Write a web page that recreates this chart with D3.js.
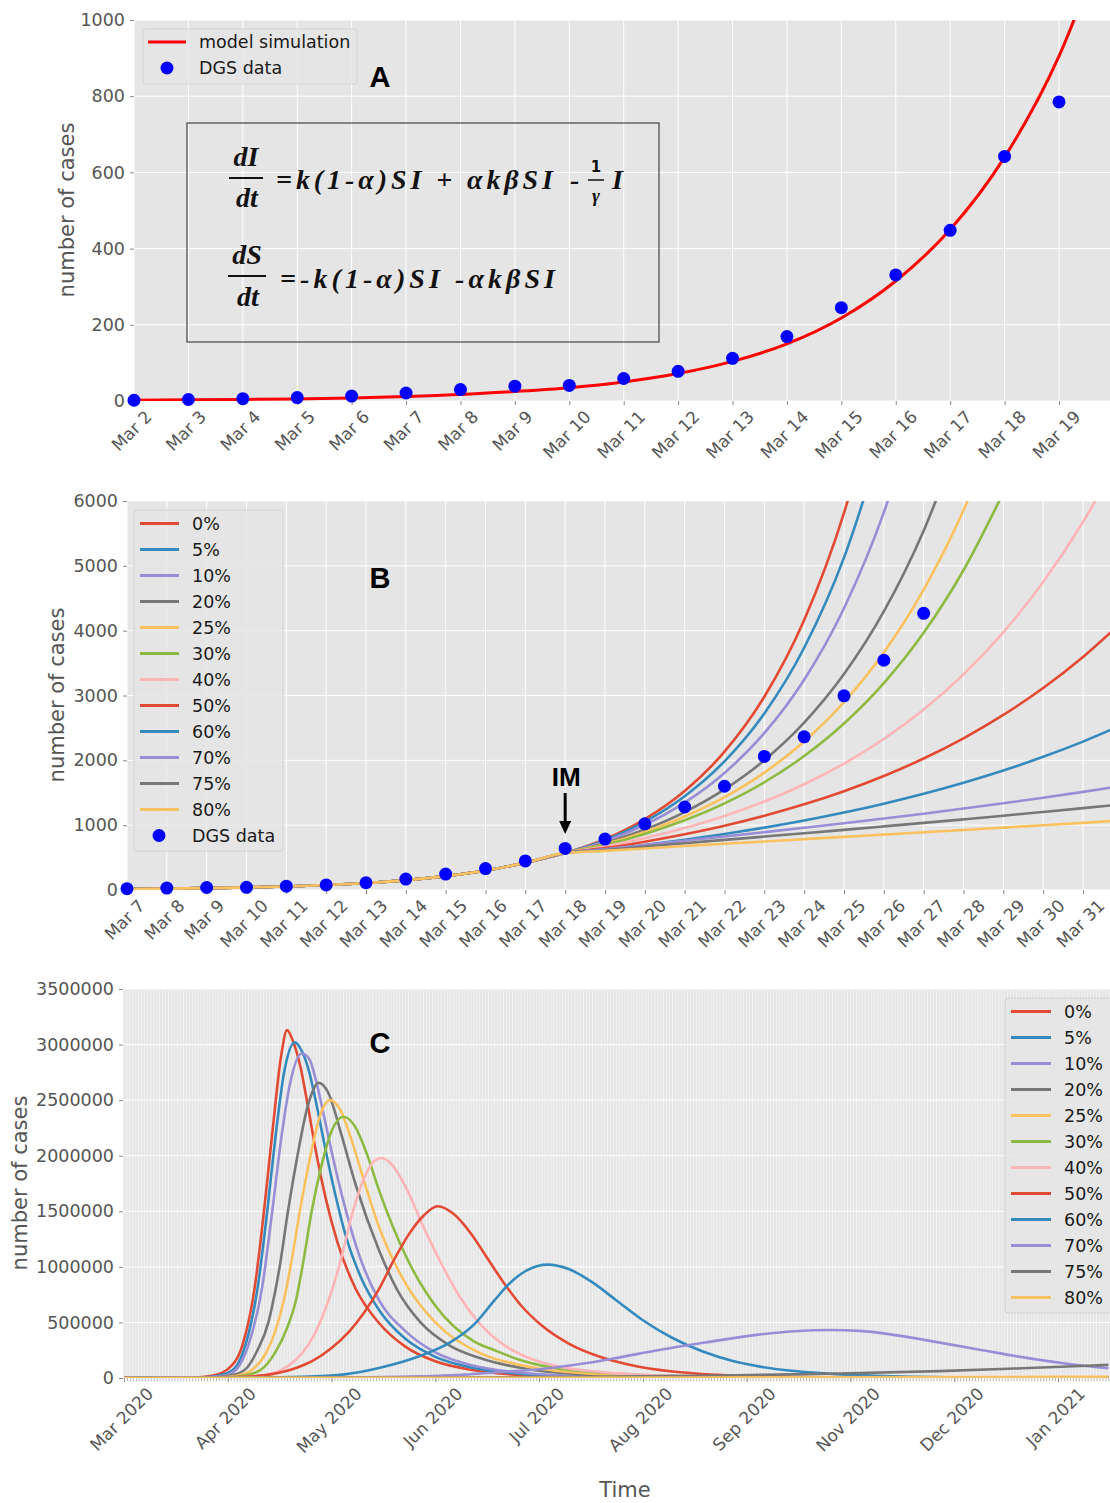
<!DOCTYPE html>
<html>
<head>
<meta charset="utf-8">
<title>SIR model simulations</title>
<script src="https://d3js.org/d3.v7.min.js"></script>
<style>
  body { margin: 0; background: #ffffff; }
  svg { font-family: "DejaVu Sans", sans-serif; }
</style>
</head>
<body>
<svg id="chart" width="1110" height="1503"></svg>
<script>
// ---------------- data ----------------
// panel A : model fit on the first days
var aTickLabels = ["Mar 2", "Mar 3", "Mar 4", "Mar 5", "Mar 6", "Mar 7", "Mar 8", "Mar 9", "Mar 10",
                   "Mar 11", "Mar 12", "Mar 13", "Mar 14", "Mar 15", "Mar 16", "Mar 17", "Mar 18", "Mar 19"];
var aDgsCases = [2, 4, 6, 9, 13, 21, 30, 39, 41, 59, 78, 112, 169, 245, 331, 448, 642, 785];
// model simulation, one value per day from Mar 2 to Mar 20
var aModelCases = [2, 3, 4, 5.5, 8, 12, 17, 25, 35, 50, 72, 104, 150, 218, 315, 450, 640, 905, 1280];
var aYTicks = [0, 200, 400, 600, 800, 1000];

// panel B : isolation scenarios after IM (Mar 18)
var bTickLabels = ["Mar 7", "Mar 8", "Mar 9", "Mar 10", "Mar 11", "Mar 12", "Mar 13", "Mar 14", "Mar 15",
                   "Mar 16", "Mar 17", "Mar 18", "Mar 19", "Mar 20", "Mar 21", "Mar 22", "Mar 23", "Mar 24",
                   "Mar 25", "Mar 26", "Mar 27", "Mar 28", "Mar 29", "Mar 30", "Mar 31"];
// DGS data from Mar 7 to Mar 27
var bDgsCases = [21, 30, 39, 41, 59, 78, 112, 169, 245, 331, 448, 642, 785, 1020, 1280, 1600, 2060, 2362, 2995, 3544, 4268];
// common fit from Mar 7 to Mar 18
var bFitCases = [15, 21, 29, 40, 55, 77, 108, 152, 214, 300, 420, 570];
var scenarios = ["0%", "5%", "10%", "20%", "25%", "30%", "40%", "50%", "60%", "70%", "75%", "80%"];
// one value per day starting Mar 18
var bAfterIM = [
  [570, 782, 1093, 1527, 2133, 2980, 4163, 5816, 8125],
  [570, 768, 1054, 1447, 1985, 2723, 3736, 5126, 7033],
  [570, 750, 1006, 1348, 1806, 2420, 3243, 4346, 5824, 7804],
  [570, 723, 932, 1202, 1551, 2001, 2581, 3330, 4296, 5542, 7149],
  [570, 708, 896, 1133, 1432, 1811, 2291, 2897, 3663, 4633, 5858, 7408],
  [570, 696, 865, 1076, 1337, 1662, 2066, 2568, 3192, 3968, 4932, 6130],
  [570, 669, 800, 956, 1142, 1365, 1631, 1949, 2329, 2783, 3326, 3975, 4750, 5676, 6783],
  [570, 646, 745, 860, 992, 1145, 1321, 1524, 1758, 2028, 2340, 2700, 3115, 3594, 4146],
  [570, 624, 695, 775, 864, 962, 1072, 1195, 1332, 1484, 1654, 1843, 2054, 2289, 2551],
  [570, 628, 695, 760, 825, 892, 960, 1030, 1102, 1177, 1256, 1338, 1424, 1514, 1608],
  [570, 616, 670, 722, 773, 824, 876, 928, 981, 1035, 1090, 1146, 1204, 1263, 1324],
  [570, 603, 641, 678, 714, 749, 784, 819, 854, 890, 926, 962, 999, 1036, 1074]
];
var bYTicks = [0, 1000, 2000, 3000, 4000, 5000, 6000];

// panel C : long term, [days after Mar 2 2020, cases]
var cTickDays = [0, 35, 70, 105, 140, 175, 210, 245, 280, 315];
var cTickLabels = ["Mar 2020", "Apr 2020", "May 2020", "Jun 2020", "Jul 2020", "Aug 2020",
                   "Sep 2020", "Nov 2020", "Dec 2020", "Jan 2021"];
var cYTicks = [0, 500000, 1000000, 1500000, 2000000, 2500000, 3000000, 3500000];
var cCurves = [
  [[0,0],[20,2000],[25,6000],[30,22000],[35,80000],[40,300000],[44,800000],[47,1450000],[50,2200000],[53,2900000],
   [55,3130000],[57,3030000],[59.5,2800000],[62,2450000],[65,2000000],[68,1620000],[72,1220000],[78,810000],
   [86,495000],[95,280000],[105,150000],[118,70000],[135,25000],[160,6000],[200,1000],[332,0]],
  [[0,0],[22,2000],[27,6000],[32,22000],[37,80000],[41,300000],[45,800000],[48.3,1500000],[51,2150000],[54,2750000],
   [57.6,3020000],[60,2940000],[62.5,2750000],[65,2450000],[68,2050000],[71,1680000],[75,1260000],[80,900000],
   [86,612000],[95,350000],[105,190000],[118,90000],[135,35000],[160,9000],[200,1500],[332,0]],
  [[0,0],[23,2000],[28,6000],[34,22000],[38,80000],[42,300000],[46.5,800000],[50,1500000],[53,2150000],[56,2650000],
   [60,2920000],[62.5,2870000],[65,2650000],[67.5,2350000],[70.5,1980000],[74.5,1540000],[79,1130000],[86,700000],
   [95,420000],[105,230000],[118,110000],[135,45000],[160,12000],[200,2000],[332,0]],
  [[0,0],[25,2000],[31,6000],[36,22000],[41,80000],[45,250000],[48.7,500000],[50,650000],[52.5,1000000],[55.3,1500000],
   [58.5,2000000],[62,2450000],[65.7,2655000],[69,2560000],[73,2220000],[78,1750000],[86,1150000],[92,800000],
   [100,500000],[110,290000],[120,180000],[135,85000],[160,25000],[200,4000],[240,1000],[332,0]],
  [[0,0],[27,2000],[33,6000],[38,20000],[43,70000],[48,230000],[51,420000],[53.9,700000],[56.5,1050000],[59.3,1500000],
   [62.5,1950000],[66,2350000],[69.4,2500000],[73,2410000],[77,2120000],[81,1770000],[86,1360000],[95,850000],
   [105,500000],[118,250000],[135,110000],[160,35000],[200,6000],[240,1000],[332,0]],
  [[0,0],[29,2000],[35,6000],[40,20000],[46,70000],[51,230000],[55,450000],[58,700000],[60.5,1050000],[63.3,1500000],
   [66.5,1900000],[70,2220000],[74,2350000],[78,2260000],[82,2010000],[86,1690000],[95,1100000],[105,650000],
   [118,330000],[125,250000],[135,150000],[160,50000],[200,10000],[240,2000],[332,0]],
  [[0,0],[35,3000],[42,10000],[48,30000],[52,60000],[56,120000],[60,220000],[64,380000],[67,560000],[70,780000],
   [73,1050000],[77,1480000],[81,1800000],[84,1940000],[86.6,1980000],[90,1930000],[95,1720000],[101,1360000],
   [107,1030000],[113,740000],[120,490000],[128,300000],[137,175000],[147,100000],[160,55000],[190,15000],
   [230,3000],[280,0],[332,0]],
  [[0,0],[30,3000],[40,10000],[50,35000],[58,90000],[64,160000],[70,270000],[76,420000],[81,590000],[86,800000],
   [91,1060000],[96,1290000],[101,1460000],[105.8,1545000],[111,1480000],[117,1300000],[122,1100000],[128,860000],
   [134,650000],[141,470000],[150,310000],[160,195000],[172,110000],[185,58000],[200,28000],[220,11000],
   [260,2000],[300,0],[332,0]],
  [[0,0],[40,3000],[60,10000],[75,35000],[86,90000],[100,200000],[110,320000],[118,480000],[125,700000],[130,850000],
   [136,970000],[142.8,1020000],[150,980000],[158,860000],[166,700000],[175,520000],[185,360000],[195,240000],
   [205,155000],[215,100000],[227,60000],[240,35000],[260,15000],[290,4000],[332,1000]],
  [[0,0],[60,2000],[80,6000],[100,15000],[115,30000],[125,50000],[140,78000],[155,130000],[165,175000],[180,250000],
   [196,320000],[214,390000],[226,420000],[238,432000],[248,424000],[258,395000],[268,352000],[278,305000],
   [290,248000],[300,200000],[318,128000],[332,88000]],
  [[0,0],[100,3000],[150,8000],[200,22000],[238,38000],[275,62000],[300,85000],[332,118000]],
  [[0,0],[100,2000],[200,5000],[300,9000],[332,11000]]
];

// ---------------- style ----------------
var colors = ["#E24A33", "#348ABD", "#988ED5", "#777777", "#FBC15E", "#8EBA42", "#FFB5B8",
              "#E24A33", "#348ABD", "#988ED5", "#777777", "#FBC15E"];
var tickGrey = "#555555";
var bg = "#E5E5E5";

var svg = d3.select("#chart");
var parseDay = d3.timeParse("%b %d %Y");
function day(s) { return parseDay(s + " 2020"); }

// background, grid, clip for one panel
function frame(id, box, xs, xTicks, ys, yTicks) {
  var g = svg.append("g");
  g.append("rect").attr("x", box.left).attr("y", box.top)
    .attr("width", box.right - box.left).attr("height", box.bottom - box.top).attr("fill", bg);
  g.selectAll(".gy").data(yTicks).join("line")
    .attr("x1", box.left).attr("x2", box.right)
    .attr("y1", function(d) { return ys(d); }).attr("y2", function(d) { return ys(d); })
    .attr("stroke", "#fff").attr("stroke-width", 1);
  g.selectAll(".gx").data(xTicks).join("line")
    .attr("x1", function(d) { return xs(d); }).attr("x2", function(d) { return xs(d); })
    .attr("y1", box.top).attr("y2", box.bottom)
    .attr("stroke", "#fff").attr("stroke-width", 1);
  svg.append("clipPath").attr("id", id).append("rect")
    .attr("x", box.left).attr("y", box.top)
    .attr("width", box.right - box.left).attr("height", box.bottom - box.top);
  return g;
}

function leftAxis(ys, ticks, box) {
  var g = svg.append("g").attr("transform", "translate(" + box.left + ",0)")
    .call(d3.axisLeft(ys).tickValues(ticks).tickFormat(d3.format("d")).tickSize(4).tickPadding(5));
  g.attr("font-family", null).attr("font-size", null);
  g.select(".domain").remove();
  g.selectAll(".tick line").attr("stroke", "#888");
  g.selectAll(".tick text").attr("fill", tickGrey).style("font-size", "17.5px");
  return g;
}

function bottomAxis(xs, ticks, fmt, box) {
  var g = svg.append("g").attr("transform", "translate(0," + box.bottom + ")")
    .call(d3.axisBottom(xs).tickValues(ticks).tickFormat(fmt).tickSize(4));
  g.attr("font-family", null).attr("font-size", null);
  g.select(".domain").remove();
  g.selectAll(".tick line").attr("stroke", "#888");
  // matplotlib style: labels turned 45 degrees, centred under the tick
  g.selectAll(".tick text").attr("fill", tickGrey).style("font-size", "17px")
    .each(function() {
      var w = this.getComputedTextLength();
      var off = 7 + (w + 16) * 0.3536;
      d3.select(this).attr("y", null).attr("dy", null)
        .attr("text-anchor", "middle").attr("dominant-baseline", "central")
        .attr("transform", "translate(-3," + off + ") rotate(-45)");
    });
  return g;
}

function yLabel(x, y, txt) {
  svg.append("text").attr("transform", "translate(" + x + "," + y + ") rotate(-90)")
    .attr("text-anchor", "middle").attr("dominant-baseline", "central")
    .attr("fill", tickGrey).style("font-size", "21px").text(txt);
}

function panelLetter(x, y, txt) {
  svg.append("text").attr("x", x).attr("y", y).attr("text-anchor", "middle")
    .style("font-family", "Liberation Sans, Arial, sans-serif").style("font-weight", "bold")
    .style("font-size", "29px").attr("fill", "#000").text(txt);
}

function legendBox(x, y, w, h) {
  svg.append("rect").attr("x", x).attr("y", y).attr("width", w).attr("height", h).attr("rx", 3)
    .attr("fill", bg).attr("fill-opacity", 0.85).attr("stroke", "#d2d2d2");
}

// ================= panel A =================
var boxA = {left: 134, right: 1110, top: 20, bottom: 401};
var xA = d3.scaleTime().domain([day("Mar 2"), day("Mar 19")]).range([134, 1059]);
var yA = d3.scaleLinear().domain([0, 1000]).range([boxA.bottom, boxA.top]);
var aDates = aTickLabels.map(day);
frame("clipA", boxA, xA, aDates, yA, aYTicks);
leftAxis(yA, aYTicks, boxA);
bottomAxis(xA, aDates, d3.timeFormat("%b %-d"), boxA);
yLabel(67, 210, "number of cases");

var lineA = d3.line()
  .x(function(d, i) { return xA(d3.timeDay.offset(day("Mar 2"), i)); })
  .y(function(d) { return yA(d); })
  .curve(d3.curveMonotoneX);
svg.append("path").datum(aModelCases).attr("clip-path", "url(#clipA)")
  .attr("d", lineA).attr("fill", "none").attr("stroke", "#FF0000").attr("stroke-width", 3);
svg.append("g").selectAll("circle").data(aDgsCases).join("circle")
  .attr("cx", function(d, i) { return xA(aDates[i]); })
  .attr("cy", function(d) { return yA(d); })
  .attr("r", 6.5).attr("fill", "#0000FF");

legendBox(143, 29, 214, 55);
svg.append("line").attr("x1", 148).attr("x2", 186).attr("y1", 42).attr("y2", 42)
  .attr("stroke", "#FF0000").attr("stroke-width", 3);
svg.append("circle").attr("cx", 167).attr("cy", 68).attr("r", 6.5).attr("fill", "#0000FF");
svg.append("text").attr("x", 199).attr("y", 42).attr("dominant-baseline", "central")
  .style("font-size", "17.5px").attr("fill", "#1a1a1a").text("model simulation");
svg.append("text").attr("x", 199).attr("y", 68).attr("dominant-baseline", "central")
  .style("font-size", "17.5px").attr("fill", "#1a1a1a").text("DGS data");
panelLetter(380, 87, "A");

// equations
var eq = svg.append("g").style("font-family", "'Liberation Serif', 'DejaVu Serif', serif")
  .style("font-weight", "bold").style("font-style", "italic").attr("fill", "#111");
eq.append("rect").attr("x", 187).attr("y", 123).attr("width", 472).attr("height", 219)
  .attr("fill", "none").attr("stroke", "#444").attr("stroke-width", 1.2);
function frac(cx, num, den, yn, yb, yd, half) {
  eq.append("text").attr("x", cx).attr("y", yn).attr("text-anchor", "middle").style("font-size", "28px").text(num);
  eq.append("line").attr("x1", cx - half).attr("x2", cx + half).attr("y1", yb).attr("y2", yb)
    .attr("stroke", "#111").attr("stroke-width", 2);
  eq.append("text").attr("x", cx + 1).attr("y", yd).attr("text-anchor", "middle").style("font-size", "28px").text(den);
}
frac(246, "dI", "dt", 166, 178, 207, 17);
eq.append("text").attr("x", 276).attr("y", 189).style("font-size", "28px")
  .attr("textLength", 277).attr("lengthAdjust", "spacing").text("=k(1-α)SI + αkβSI");
eq.append("text").attr("x", 570).attr("y", 189).style("font-size", "28px").text("-");
eq.append("text").attr("x", 596).attr("y", 172).attr("text-anchor", "middle")
  .style("font-family", "'DejaVu Sans', sans-serif").style("font-style", "normal")
  .style("font-size", "15px").text("1");
eq.append("line").attr("x1", 588).attr("x2", 604).attr("y1", 180).attr("y2", 180)
  .attr("stroke", "#111").attr("stroke-width", 1.5);
eq.append("text").attr("x", 596).attr("y", 202).attr("text-anchor", "middle").style("font-size", "19px").text("γ");
eq.append("text").attr("x", 612).attr("y", 189).style("font-size", "28px").text("I");
frac(247, "dS", "dt", 264, 276, 306, 19);
eq.append("text").attr("x", 280).attr("y", 288).style("font-size", "28px")
  .attr("textLength", 275).attr("lengthAdjust", "spacing").text("=-k(1-α)SI -αkβSI");

// ================= panel B =================
var boxB = {left: 127, right: 1110, top: 501, bottom: 890};
var xB = d3.scaleTime().domain([day("Mar 7"), day("Mar 31")]).range([127, 1083]);
var yB = d3.scaleLinear().domain([0, 6000]).range([boxB.bottom, boxB.top]);
var bDates = bTickLabels.map(day);
frame("clipB", boxB, xB, bDates, yB, bYTicks);
leftAxis(yB, bYTicks, boxB);
bottomAxis(xB, bDates, d3.timeFormat("%b %-d"), boxB);
yLabel(57, 695, "number of cases");

var lineB = d3.line()
  .x(function(d) { return xB(d[0]); })
  .y(function(d) { return yB(d[1]); })
  .curve(d3.curveMonotoneX);
var imDate = day("Mar 18");
bAfterIM.forEach(function(vals, k) {
  var pts = bFitCases.slice(0, -1).map(function(v, i) { return [bDates[i], v]; })
    .concat(vals.map(function(v, i) { return [d3.timeDay.offset(imDate, i), v]; }));
  svg.append("path").datum(pts).attr("clip-path", "url(#clipB)")
    .attr("d", lineB).attr("fill", "none").attr("stroke", colors[k]).attr("stroke-width", 2.6);
});
svg.append("g").selectAll("circle").data(bDgsCases).join("circle")
  .attr("cx", function(d, i) { return xB(bDates[i]); })
  .attr("cy", function(d) { return yB(d); })
  .attr("r", 6.5).attr("fill", "#0000FF");

legendBox(134, 510, 149, 341);
scenarios.forEach(function(s, k) {
  var y = 523.5 + k * 26;
  svg.append("line").attr("x1", 140).attr("x2", 179).attr("y1", y).attr("y2", y)
    .attr("stroke", colors[k]).attr("stroke-width", 3);
  svg.append("text").attr("x", 192).attr("y", y).attr("dominant-baseline", "central")
    .style("font-size", "17.5px").attr("fill", "#1a1a1a").text(s);
});
svg.append("circle").attr("cx", 159).attr("cy", 835.5).attr("r", 6.5).attr("fill", "#0000FF");
svg.append("text").attr("x", 192).attr("y", 835.5).attr("dominant-baseline", "central")
  .style("font-size", "17.5px").attr("fill", "#1a1a1a").text("DGS data");
panelLetter(380, 588, "B");

// IM arrow
var imX = xB(imDate);
svg.append("text").attr("x", imX + 1).attr("y", 786).attr("text-anchor", "middle")
  .style("font-family", "Liberation Sans, Arial, sans-serif").style("font-weight", "bold")
  .style("font-size", "26px").attr("textLength", 29).attr("lengthAdjust", "spacingAndGlyphs")
  .attr("fill", "#000").text("IM");
svg.append("line").attr("x1", imX).attr("x2", imX).attr("y1", 793).attr("y2", 823)
  .attr("stroke", "#000").attr("stroke-width", 3);
svg.append("path").attr("d", "M" + (imX - 6) + ",821 L" + (imX + 6) + ",821 L" + imX + ",834 Z").attr("fill", "#000");

// ================= panel C =================
var boxC = {left: 123, right: 1110, top: 989, bottom: 1378};
var xC = d3.scaleLinear().domain([0, 315]).range([124, 1058]);
var yC = d3.scaleLinear().domain([0, 3500000]).range([boxC.bottom, boxC.top]);
var everyDay = d3.range(0, 333);
var gC = frame("clipC", boxC, xC, [], yC, cYTicks);
// daily minor grid
gC.selectAll(".gd").data(everyDay).join("line")
  .attr("x1", function(d) { return xC(d); }).attr("x2", function(d) { return xC(d); })
  .attr("y1", boxC.top).attr("y2", boxC.bottom)
  .attr("stroke", "#fff").attr("stroke-width", 0.7).attr("stroke-opacity", 0.75);
leftAxis(yC, cYTicks, boxC);
bottomAxis(xC, cTickDays, function(d, i) { return cTickLabels[i]; }, boxC);
var minor = svg.append("g").attr("transform", "translate(0," + boxC.bottom + ")")
  .call(d3.axisBottom(xC).tickValues(everyDay).tickFormat("").tickSize(3));
minor.select(".domain").remove();
minor.selectAll(".tick line").attr("stroke", "#999").attr("stroke-width", 0.7);
yLabel(20, 1183, "number of cases");
svg.append("text").attr("x", 625).attr("y", 1497).attr("text-anchor", "middle")
  .attr("fill", tickGrey).style("font-size", "21px").text("Time");

var lineC = d3.line()
  .x(function(d) { return xC(d[0]); })
  .y(function(d) { return yC(d[1]); })
  .curve(d3.curveMonotoneX);
cCurves.forEach(function(pts, k) {
  svg.append("path").datum(pts).attr("clip-path", "url(#clipC)")
    .attr("d", lineC).attr("fill", "none").attr("stroke", colors[k]).attr("stroke-width", 2.6);
});

legendBox(1005, 998, 120, 315);
scenarios.forEach(function(s, k) {
  var y = 1011.5 + k * 26;
  svg.append("line").attr("x1", 1011).attr("x2", 1051).attr("y1", y).attr("y2", y)
    .attr("stroke", colors[k]).attr("stroke-width", 3);
  svg.append("text").attr("x", 1064).attr("y", y).attr("dominant-baseline", "central")
    .style("font-size", "17.5px").attr("fill", "#1a1a1a").text(s);
});
panelLetter(380, 1053, "C");
</script>
</body>
</html>
